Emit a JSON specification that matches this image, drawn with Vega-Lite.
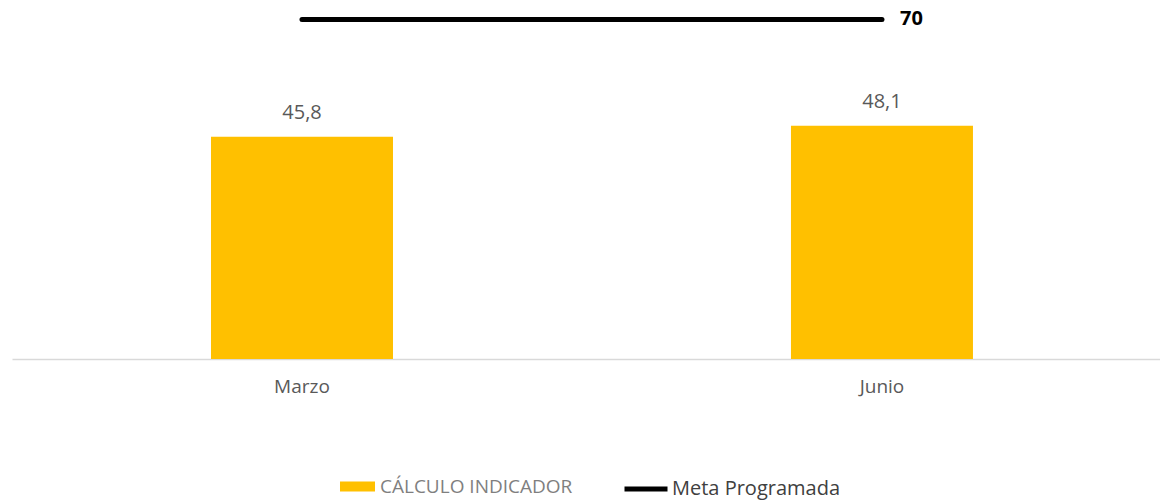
{
  "$schema": "https://vega.github.io/schema/vega-lite/v6.json",
  "width": 1148,
  "height": 359,
  "autosize": {"type": "none"},
  "padding": {"left": 12, "top": 0, "right": 0, "bottom": 141},
  "background": "white",
  "config": {
    "view": {"stroke": null},
    "font": "Open Sans",
    "locale": {"number": {"decimal": ",", "thousands": ".", "grouping": [3], "currency": ["", " €"]}}
  },
  "data": {
    "values": [
      {"mes": "Marzo", "valor": 45.8, "meta": 70},
      {"mes": "Junio", "valor": 48.1, "meta": 70}
    ]
  },
  "encoding": {
    "x": {
      "field": "mes",
      "type": "nominal",
      "sort": ["Marzo", "Junio"],
      "scale": {"paddingInner": 0.6862, "paddingOuter": 0.3328, "align": 0.5155},
      "axis": {
        "title": null,
        "labelAngle": 0,
        "ticks": false,
        "domainColor": "#d9d9d9",
        "domainWidth": 1.5,
        "labelFontSize": 19,
        "labelColor": "#595959",
        "labelPadding": 18
      }
    }
  },
  "layer": [
    {
      "mark": {"type": "bar"},
      "encoding": {
        "y": {"field": "valor", "type": "quantitative", "scale": {"domain": [0, 74], "nice": false}, "axis": null},
        "fill": {
          "datum": "CÁLCULO INDICADOR",
          "scale": {"range": ["#FFC000"]},
          "legend": {
            "orient": "none",
            "legendX": 328,
            "legendY": 469,
            "title": null,
            "padding": 0,
            "symbolType": "M-1,-0.286L1,-0.286L1,0.286L-1,0.286Z",
            "symbolSize": 1225,
            "symbolStrokeWidth": 0,
            "labelFontSize": 19,
            "labelColor": "#7f7f7f",
            "labelOffset": 5,
            "labelLimit": 400
          }
        }
      }
    },
    {
      "mark": {"type": "text", "baseline": "bottom", "dy": -14, "fontSize": 20, "color": "#595959"},
      "encoding": {
        "y": {"field": "valor", "type": "quantitative"},
        "text": {"field": "valor", "type": "quantitative", "format": ".1f"}
      }
    },
    {
      "mark": {"type": "line", "strokeWidth": 5, "strokeCap": "round"},
      "encoding": {
        "y": {"field": "meta", "type": "quantitative"},
        "stroke": {
          "datum": "Meta Programada",
          "scale": {"range": ["#000000"]},
          "legend": {
            "orient": "none",
            "legendX": 610,
            "legendY": 465,
            "title": null,
            "padding": 0,
            "symbolType": "stroke",
            "symbolSize": 1849,
            "symbolStrokeWidth": 5,
            "labelFontSize": 20,
            "labelColor": "#404040",
            "labelOffset": 2,
            "labelLimit": 400
          }
        }
      }
    },
    {
      "transform": [{"filter": "datum.mes === 'Junio'"}],
      "mark": {"type": "text", "align": "left", "baseline": "middle", "dx": 18, "fontSize": 20, "fontWeight": "bold", "color": "#000000"},
      "encoding": {
        "y": {"field": "meta", "type": "quantitative"},
        "text": {"field": "meta", "type": "quantitative"}
      }
    }
  ]
}
